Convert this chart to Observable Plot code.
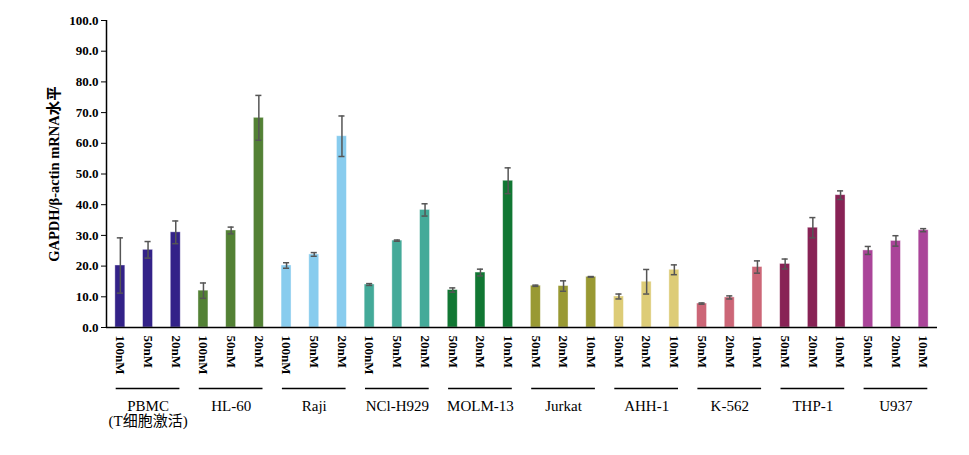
<!DOCTYPE html>
<html><head><meta charset="utf-8">
<script src="https://cdn.jsdelivr.net/npm/d3@7"></script>
<script src="https://cdn.jsdelivr.net/npm/@observablehq/plot@0.6"></script>
<style>body{margin:0;background:#fff} svg text{font-family:'Liberation Serif','Times New Roman','Noto Sans CJK SC',serif !important}</style>
</head><body><div id="chart"></div>
<script>
const groups = ["PBMC\n(T细胞激活)", "HL-60", "Raji", "NCl-H929", "MOLM-13", "Jurkat", "AHH-1", "K-562", "THP-1", "U937"];
const dosesA = ["100nM", "50nM", "20nM"];
const dosesB = ["50nM", "20nM", "10nM"];
const groupDoses = [dosesA, dosesA, dosesA, dosesA, dosesB, dosesB, dosesB, dosesB, dosesB, dosesB];
const means = [
  [20.2, 25.3, 31.0], [12.0, 31.6, 68.3], [20.2, 23.8, 62.3], [14.0, 28.3, 38.3], [12.2, 17.9, 47.8],
  [13.6, 13.5, 16.5], [10.1, 14.9, 18.8], [7.8, 9.8, 19.7], [20.7, 32.5, 43.1], [25.1, 28.2, 31.7]
];
const errs = [
  [9.0, 2.7, 3.7], [2.5, 1.1, 7.3], [0.9, 0.6, 6.6], [0.3, 0.2, 2.0], [0.7, 1.1, 4.2],
  [0.2, 1.7, 0.1], [0.8, 4.0, 1.6], [0.2, 0.5, 2.0], [1.6, 3.3, 1.4], [1.3, 1.7, 0.5]
];
const colors = ["#332288", "#538135", "#88CCEE", "#44AA99", "#117733", "#999933", "#DDCC77", "#CC6677", "#882255", "#AA4499"];
const yTicks = [0, 10, 20, 30, 40, 50, 60, 70, 80, 90, 100];

const rows = [];
groups.forEach((g, gi) => {
  groupDoses[gi].forEach((d, k) => {
    rows.push({i: gi * 3 + k, group: g, dose: d, v: means[gi][k], e: errs[gi][k], color: colors[gi]});
  });
});
const groupRows = groups.map((g, gi) => ({g, c: gi * 3 + 1}));
const tickLabels = rows.map(r => r.dose);

const font = "'Liberation Serif', 'Times New Roman', 'Noto Sans CJK SC', serif";
const hw = 0.18;

const plot = Plot.plot({
  width: 969,
  height: 455,
  marginLeft: 106,
  marginRight: 32,
  marginTop: 20,
  marginBottom: 128,
  style: {fontFamily: font, background: "#fff", color: "#000"},
  x: {domain: [-0.5, 29.5], axis: null},
  y: {domain: [0, 100], axis: null},
  marks: [
    Plot.rectY(rows, {x1: d => d.i - hw, x2: d => d.i + hw, y1: 0, y2: "v", fill: "color", stroke: "#fff", strokeOpacity: 0.5, strokeWidth: 0.8}),
    Plot.ruleX(rows, {x: "i", y1: d => d.v - d.e, y2: d => d.v + d.e, stroke: "#555", strokeWidth: 1.5}),
    Plot.ruleY(rows, {y: d => d.v + d.e, x1: d => d.i - 0.11, x2: d => d.i + 0.11, stroke: "#555", strokeWidth: 1.5}),
    Plot.ruleY(rows, {y: d => d.v - d.e, x1: d => d.i - 0.11, x2: d => d.i + 0.11, stroke: "#555", strokeWidth: 1.5}),
    Plot.axisY({ticks: yTicks, tickFormat: d => d.toFixed(1), tickSize: 5, tickPadding: 3, fontSize: 13, fontWeight: "bold", fontFamily: font,
      label: "GAPDH/β-actin mRNA水平", labelAnchor: "center", labelOffset: 58, labelArrow: "none"}),
    Plot.ruleX([-0.5], {stroke: "#000", strokeWidth: 1.5}),
    Plot.ruleY([0], {stroke: "#000", strokeWidth: 1.5}),
    Plot.axisX({ticks: rows.map(r => r.i), tickFormat: i => tickLabels[i], tickSize: 0, tickPadding: 8, tickRotate: 90,
      fontSize: 13, fontWeight: "bold", fontFamily: font, label: null}),
    Plot.ruleY(groupRows, {y: 0, x1: d => d.c - 1.15, x2: d => d.c + 1.15, dy: 61, stroke: "#000", strokeWidth: 1.5}),
    Plot.text(groupRows, {x: "c", y: 0, text: "g", dy: 72, lineAnchor: "top", fontSize: 15, lineHeight: 1.05, fontFamily: font})
  ]
});
plot.querySelectorAll("g[aria-label='y-axis label'] text, g[aria-label='y-axis label']").forEach(t => { t.setAttribute("font-weight", "bold"); t.setAttribute("font-size", "14.5"); });
document.getElementById("chart").appendChild(plot);
</script>
</body></html>
